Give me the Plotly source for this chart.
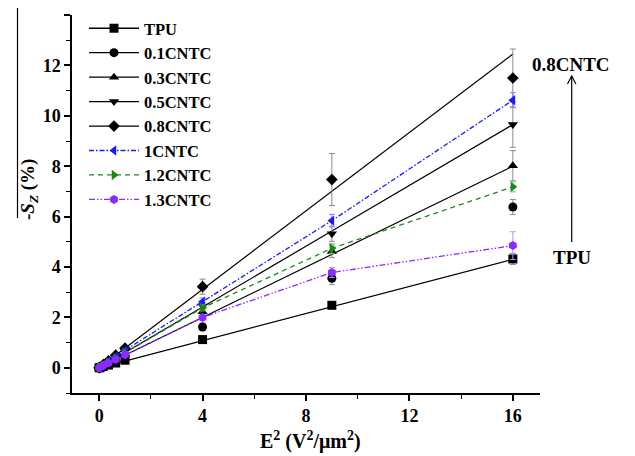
import plotly.graph_objects as go

# ---- data ----
e2 = [0, 0.04, 0.16, 0.36, 0.64, 1, 4, 9, 16]
names = ["TPU", "0.1CNTC", "0.3CNTC", "0.5CNTC", "0.8CNTC", "1CNTC", "1.2CNTC", "1.3CNTC"]

tpu      = [0, 0.01, 0.05, 0.11, 0.19, 0.30, 1.12, 2.48, 4.32]
c01      = [0, 0.02, 0.08, 0.17, 0.30, 0.45, 1.62, 3.55, 6.38]
c03      = [0, 0.02, 0.10, 0.21, 0.37, 0.56, 2.22, 4.62, 8.02]
c05      = [0, 0.03, 0.11, 0.24, 0.42, 0.65, 2.45, 5.32, 9.65]
c08      = [0, 0.03, 0.13, 0.28, 0.50, 0.78, 3.22, 7.47, 11.50]
c1       = [0, 0.03, 0.12, 0.26, 0.45, 0.70, 2.62, 5.84, 10.62]
c12      = [0, 0.02, 0.10, 0.22, 0.38, 0.60, 2.38, 4.74, 7.18]
c13      = [0, 0.02, 0.09, 0.19, 0.33, 0.52, 2.00, 3.78, 4.85]

tpu_err  = [0, 0, 0, 0, 0, 0.03, 0.08, 0.12, 0.22]
c01_err  = [0, 0, 0, 0, 0, 0.05, 0.15, 0.25, 0.30]
c03_err  = [0, 0, 0, 0, 0, 0.05, 0.15, 0.25, 0.60]
c05_err  = [0, 0, 0, 0, 0, 0.05, 0.15, 0.30, 0.90]
c08_err  = [0, 0, 0, 0, 0, 0.05, 0.30, 1.03, 1.15]
c1_err   = [0, 0, 0, 0, 0, 0.05, 0.15, 0.25, 0.30]
c12_err  = [0, 0, 0, 0, 0, 0.05, 0.12, 0.20, 0.20]
c13_err  = [0, 0, 0, 0, 0, 0.05, 0.12, 0.20, 0.55]

# straight (fitted) lines for the black series: value of line at E^2 = 16
fit_at_16 = {"TPU": 4.30, "0.3CNTC": 8.00, "0.5CNTC": 9.65, "0.8CNTC": 12.45}

x_ticks = [0, 4, 8, 12, 16]
y_ticks = [0, 2, 4, 6, 8, 10, 12, 14]

# ---- styles ----
vals = [tpu, c01, c03, c05, c08, c1, c12, c13]
errs = [tpu_err, c01_err, c03_err, c05_err, c08_err, c1_err, c12_err, c13_err]
symbols = ["square", "circle", "triangle-up", "triangle-down", "diamond",
           "triangle-left", "triangle-right", "hexagon"]
colors = ["black"] * 5 + ["#1a1aff", "#168a16", "#8a2bff"]
err_colors = ["#8c8c8c"] * 5 + ["#8080ff", "#80c080", "#c090ff"]
dashes = ["solid"] * 5 + ["5px,2px,1.5px,2px", "5px,4px", "6px,2px,1.5px,2px,1.5px,2px"]
connect = [False] * 5 + [True] * 3

FONT = "Liberation Serif"
OFF = 8  # page body margin of the browser
W, H = 635 - OFF, 456 - OFF
# plot area in reference pixels: x 72..540, y 15..393
ML = 72 - OFF
MR = OFF + W - 540
MT = 15 - OFF
MB = OFF + H - 393
PW, PH = W - ML - MR, H - MT - MB


def px(xp):  # reference pixel x -> paper
    return (xp - OFF - ML) / PW


def py(yp):  # reference pixel y -> paper
    return (H - MB - (yp - OFF)) / PH


fig = go.Figure()

# fit lines (black) first
for n in names:
    if n in fit_at_16:
        slope = fit_at_16[n] / e2[-1]
        fig.add_trace(go.Scatter(x=e2, y=[slope * v for v in e2], mode="lines",
                                 line=dict(color="black", width=1.2),
                                 showlegend=False, hoverinfo="skip"))

# data points
for i, n in enumerate(names):
    fig.add_trace(go.Scatter(
        x=e2, y=vals[i],
        mode="lines+markers" if connect[i] else "markers",
        line=dict(color=colors[i], width=1.3, dash=dashes[i]),
        marker=dict(symbol=symbols[i], size=9, color=colors[i], line=dict(width=0)),
        error_y=dict(type="data", array=errs[i], color=err_colors[i], thickness=1, width=3),
        showlegend=False))

# legend entries
for i, n in enumerate(names):
    fig.add_trace(go.Scatter(
        x=[None], y=[None], mode="lines+markers", name=n,
        line=dict(color=colors[i], width=1.3, dash=dashes[i]),
        marker=dict(symbol=symbols[i], size=9, color=colors[i])))

fig.update_layout(
    width=W, height=H,
    margin=dict(l=ML, r=MR, t=MT, b=MB, autoexpand=False),
    paper_bgcolor="white", plot_bgcolor="white",
    font=dict(family=FONT, size=17, color="black", weight="bold"),
    legend=dict(x=px(84), y=py(11), xanchor="left", yanchor="top",
                bgcolor="rgba(0,0,0,0)", font=dict(size=16.5, family=FONT, weight="bold"),
                itemwidth=50, tracegroupgap=0),
    xaxis=dict(range=[-1.05, 17.05], tickvals=x_ticks, showgrid=False, zeroline=False,
               showline=True, linecolor="black", linewidth=1.5,
               ticks="outside", ticklen=6, tickwidth=1.5, tickcolor="black",
               minor=dict(dtick=2, tick0=0, ticks="outside", ticklen=4, tickcolor="black", tickwidth=1),
               tickfont=dict(size=18), automargin=False),
    yaxis=dict(range=[-1, 14], tickvals=y_ticks, showgrid=False, zeroline=False,
               showline=True, linecolor="black", linewidth=1.5,
               ticks="outside", ticklen=6, tickwidth=1.5, tickcolor="black",
               minor=dict(dtick=1, tick0=0, ticks="outside", ticklen=4, tickcolor="black", tickwidth=1),
               tickfont=dict(size=18), automargin=False),
)

# axis titles
fig.add_annotation(text="E<sup>2</sup> (V<sup>2</sup>/μm<sup>2</sup>)", xref="paper", yref="paper",
                   x=px(310), y=py(440), showarrow=False, font=dict(size=20),
                   xanchor="center", yanchor="middle")
fig.add_annotation(text="-<i>S</i><sub><i>Z</i></sub> (%)", xref="paper", yref="paper",
                   x=px(29), y=py(190), textangle=-90, showarrow=False, font=dict(size=19),
                   xanchor="center", yanchor="middle")
fig.add_shape(type="line", xref="paper", yref="paper", x0=px(17.5), x1=px(17.5), y0=py(218), y1=py(7),
              line=dict(color="black", width=1.2))

# right-hand annotations (paper coords, outside the plot area)
fig.add_annotation(text="0.8CNTC", xref="paper", yref="paper", x=px(571), y=py(64),
                   showarrow=False, font=dict(size=19), xanchor="center", yanchor="middle")
fig.add_annotation(text="TPU", xref="paper", yref="paper", x=px(572), y=py(257),
                   showarrow=False, font=dict(size=19), xanchor="center", yanchor="middle")
fig.add_shape(type="line", xref="paper", yref="paper", x0=px(571.7), x1=px(571.7),
              y0=py(242), y1=py(76), line=dict(color="black", width=1.2))
fig.add_shape(type="path", xref="paper", yref="paper",
              path=f"M {px(567.5)},{py(84)} L {px(571.7)},{py(76)} L {px(575.9)},{py(84)}",
              line=dict(color="black", width=1.2))

fig.write_html("out.html")
